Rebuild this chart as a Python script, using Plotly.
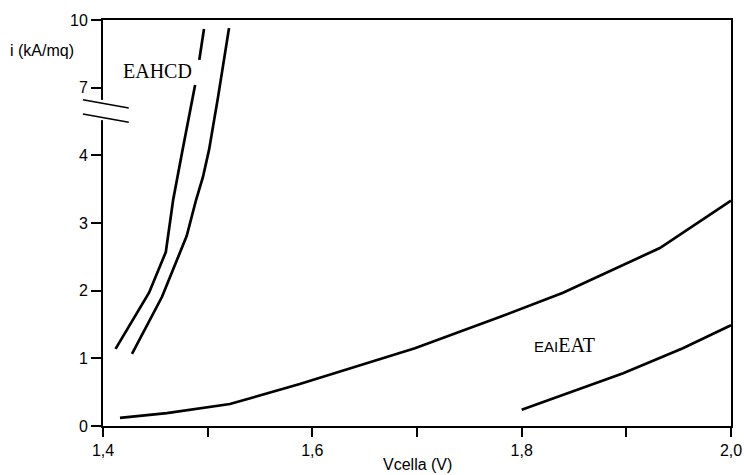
import plotly.graph_objects as go

# ---- data (real units: V, kA/mq) ----
eahcd1_v = [1.412, 1.444, 1.460, 1.467, 1.476, 1.488, None, 1.492, 1.4965]
eahcd1_i = [1.14, 1.97, 2.57, 3.34, 4.24, 7.12, None, 8.23, 9.60]

eahcd2_v = [1.4277, 1.4564, 1.480, 1.4889, 1.4955, 1.5013, 1.5099, 1.5204]
eahcd2_i = [1.065, 1.91, 2.81, 3.34, 3.68, 4.24, 6.58, 9.64]

eai_v = [1.4162, 1.461, 1.5213, 1.588, 1.698, 1.779, 1.8395, 1.932, 2.0]
eai_i = [0.12, 0.19, 0.325, 0.62, 1.15, 1.61, 1.97, 2.63, 3.33]

eat_v = [1.80, 1.897, 1.954, 2.0]
eat_i = [0.24, 0.78, 1.15, 1.49]

x_tickvals = [1.4, 1.5, 1.6, 1.7, 1.8, 1.9, 2.0]
x_ticktext = ["1,4", "", "1,6", "", "1,8", "", "2,0"]
y_tickreal = [0, 1, 2, 3, 4, 7, 10]
y_ticktext = ["0", "1", "2", "3", "4", "7", "10"]

BREAK = 4.0
COMPRESS = 3.0


def fold(v):
    """Broken axis: linear up to 4, compressed 3:1 above."""
    if v is None:
        return None
    return v if v <= BREAK else BREAK + (v - BREAK) / COMPRESS


line_style = dict(color="black", width=2.7)
fig = go.Figure()
for xs, ys in [(eahcd1_v, eahcd1_i), (eahcd2_v, eahcd2_i), (eai_v, eai_i), (eat_v, eat_i)]:
    fig.add_trace(go.Scatter(x=xs, y=[fold(v) for v in ys], mode="lines",
                             line=line_style, connectgaps=False, showlegend=False,
                             hoverinfo="skip"))

font = dict(family="Arial, Liberation Sans, sans-serif", size=16, color="black")

fig.update_layout(
    template="none",
    width=744, height=475,
    margin=dict(l=103, r=13, t=20, b=49, autoexpand=False),
    plot_bgcolor="white", paper_bgcolor="white",
    font=font,
    xaxis=dict(range=[1.4, 2.0], tickvals=x_tickvals, ticktext=x_ticktext,
               automargin=False,
               showgrid=False, zeroline=False, showline=True, linecolor="black",
               linewidth=2, mirror=True, ticks="outside", ticklen=9, tickwidth=2,
               tickcolor="black", tickfont=font),
    yaxis=dict(range=[0, fold(10)], tickvals=[fold(v) for v in y_tickreal],
               automargin=False,
               ticktext=y_ticktext, showgrid=False, zeroline=False, showline=True,
               linecolor="black", linewidth=2, mirror=True, ticks="outside",
               ticklen=10, tickwidth=1.5, tickcolor="black", tickfont=font),
)

# axis break: white gap in the y axis line plus two slashes
fig.add_shape(type="rect", xref="paper", yref="y", x0=-0.012, x1=0.012,
              y0=4.52, y1=4.82, fillcolor="white", line=dict(width=0), layer="above")
for y_a, y_b in [(4.82, 4.70), (4.61, 4.49)]:
    fig.add_shape(type="line", xref="paper", yref="y", x0=-0.032, x1=0.041,
                  y0=y_a, y1=y_b, line=dict(color="black", width=1.5), layer="above")

# titles
fig.add_annotation(text="i (kA/mq)", xref="paper", yref="paper", x=-0.152, y=0.926,
                   xanchor="left", yanchor="middle", showarrow=False, font=font)
fig.add_annotation(text="Vcella (V)", xref="paper", yref="paper", x=0.5, y=-0.094,
                   xanchor="center", yanchor="middle", showarrow=False, font=font)

# curve labels
serif = dict(family="Times New Roman, Liberation Serif, serif", size=20, color="black")
fig.add_annotation(text="EAHCD", x=1.4516, y=5.25, xref="x", yref="y",
                   showarrow=False, font=serif)
fig.add_annotation(
    text="<span style='font-family:Arial, Liberation Sans, sans-serif;font-size:15px'>EAI</span>EAT",
    x=1.8409, y=1.2, xref="x", yref="y", showarrow=False, font=serif)

fig.write_html("out.html")
